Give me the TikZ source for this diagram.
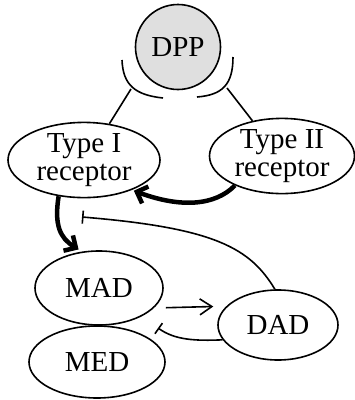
\documentclass[tikz,border=0pt]{standalone}
\usepackage{fontspec}
\setmainfont{Liberation Serif}
\usetikzlibrary{positioning}
\usetikzlibrary{shapes.geometric}
\usetikzlibrary{arrows.meta}

\begin{document}
\begin{tikzpicture}[x=1pt, y=-1pt,
                        every node/.style={draw, line width=1.6pt, inner sep=0pt, align=center,
                                           font=\fontsize{29}{28}\selectfont},
                        cell/.style={ellipse},
                        strong/.style={line width=4.5pt, -{Straight Barb[length=9pt,width=18pt]}},
                        weak/.style={line width=1.6pt, -{Straight Barb[length=12pt,width=16pt]}},
                        block/.style={line width=1.6pt, -{Bar[width=13pt]}}]
            \useasboundingbox (0,0) rectangle (355,400);

            \node[circle, fill=gray!25, minimum size=85pt] (dpp) at (178,47) {DPP};
            \node[cell, minimum width=152pt, minimum height=75pt] (t1) at (84,160) {Type I\\receptor};
            \node[cell, minimum width=145pt, minimum height=75pt] (t2) at (282,156) {Type II\\receptor};
            \node[cell, minimum width=128pt, minimum height=74pt] (mad) at (99,288) {MAD};
            \node[cell, minimum width=136pt, minimum height=72pt] (med) at (97,362) {MED};
            \node[cell, minimum width=120pt, minimum height=70pt] (dad) at (278,325) {DAD};

            % receptor hooks round the ligand
            \coordinate (hookL) at (131,89);
            \coordinate (hookR) at (227,88);
            \draw[line width=1.6pt] (122,60) .. controls (123,85) and (135,95) .. (163,98);
            \draw[line width=1.6pt] (233,57) .. controls (233,85) and (222,95) .. (197,97);
            \draw[line width=1.6pt] (hookL) -- (t1.55);
            \draw[line width=1.6pt] (hookR) -- (t2.130);

            % signalling
            \draw[strong, shorten >=2pt] (t2.212) .. controls (215,206) and (180,208) .. (t1.-32);
            \draw[strong, shorten >=4pt] (t1.235) .. controls (54,225) and (60,238) .. (mad.115);
            \draw[weak, shorten <=12pt, shorten >=13pt] (mad.-20) -- (dad.160);

            % feedback
            \coordinate (stopA) at (82,217);
            \coordinate (stopB) at (158,328);
            \draw[block] (dad.95) .. controls (250,248) and (215,228) .. (stopA);
            \draw[block] (dad.195) .. controls (195,341) and (175,340) .. (stopB);
        \end{tikzpicture}
\end{document}
